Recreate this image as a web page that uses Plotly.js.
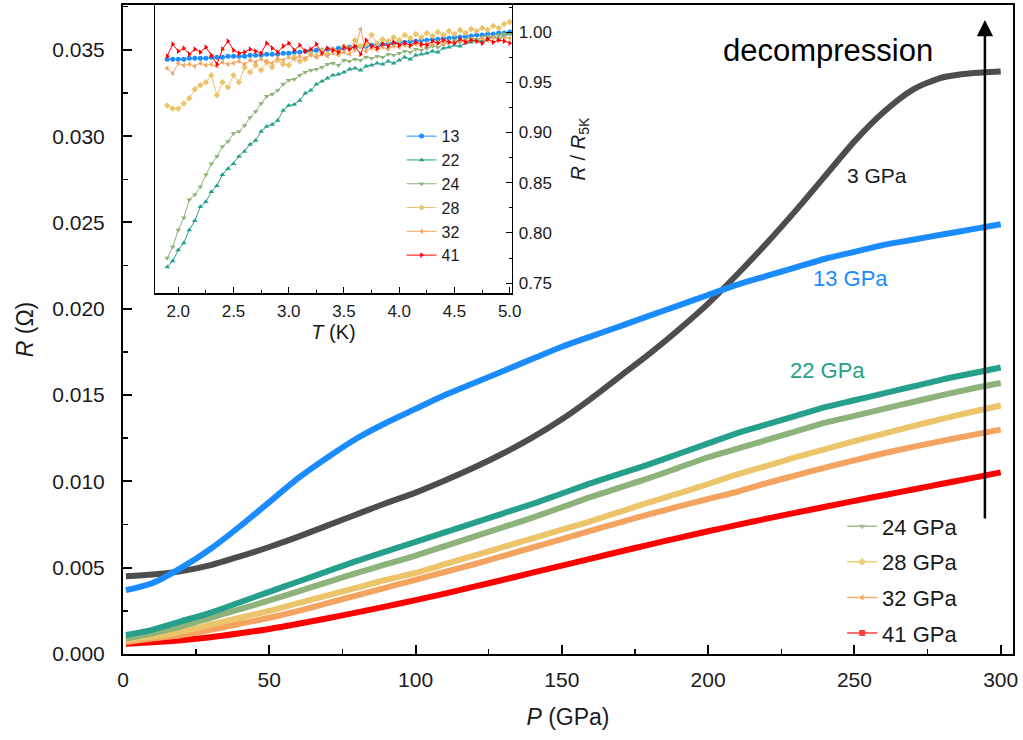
<!DOCTYPE html>
<html><head><meta charset="utf-8">
<script src="https://cdn.plot.ly/plotly-3.0.1.min.js"></script>
<style>html,body{margin:0;padding:0;background:#fff}</style>
</head><body><div id="chart" style="width:1023px;height:740px"></div>
<script>
// ---- main panel data: R (Ohm) vs P ----
const pressure = [1,10,20,30,40,50,60,70,80,90,100,110,120,130,140,150,160,170,180,190,200,210,220,230,240,250,260,270,280,290,300];
const r3  = [0.0045,0.0046,0.0048,0.00515,0.00565,0.0062,0.0068,0.00745,0.0081,0.00875,0.00935,0.01005,0.0108,0.01163,0.01255,0.0136,0.0148,0.0161,0.0174,0.0188,0.0203,0.0220,0.0238,0.0257,0.0277,0.0297,0.0314,0.0327,0.0334,0.03365,0.03375];
const r13 = [0.0037,0.0041,0.0050,0.0061,0.0074,0.0088,0.0102,0.0114,0.0125,0.0134,0.0142,0.0150,0.0157,0.0164,0.0171,0.0178,0.0184,0.0190,0.0196,0.0202,0.0208,0.0214,0.0219,0.0224,0.0229,0.0233,0.0237,0.0240,0.0243,0.0246,0.0249];
const r22 = [0.0011,0.0014,0.0019,0.0024,0.0030,0.0036,0.0042,0.0048,0.0054,0.00595,0.0065,0.00705,0.0076,0.00815,0.0087,0.0093,0.0099,0.01045,0.0110,0.0116,0.0122,0.0128,0.0133,0.0138,0.0143,0.0147,0.0151,0.0155,0.0159,0.01625,0.0166];
const r24 = [0.0009,0.0012,0.0016,0.0021,0.0026,0.0031,0.00363,0.00417,0.0047,0.0052,0.0057,0.00625,0.0068,0.00735,0.0079,0.0085,0.0091,0.00965,0.0102,0.0108,0.0114,0.0119,0.0124,0.0129,0.0134,0.0138,0.0142,0.0146,0.0150,0.01537,0.0157];
const r28 = [0.0008,0.0010,0.0013,0.0017,0.0021,0.0025,0.00295,0.0034,0.00385,0.0043,0.0047,0.0052,0.0057,0.0062,0.0067,0.0072,0.0077,0.00825,0.0088,0.0093,0.00985,0.0104,0.0109,0.0114,0.01187,0.01233,0.01277,0.0132,0.01362,0.01402,0.0144];
const r32 = [0.0007,0.0009,0.0011,0.0014,0.00175,0.0021,0.0025,0.00295,0.0034,0.00385,0.0043,0.00475,0.0052,0.00568,0.00617,0.00666,0.00715,0.00763,0.0081,0.00855,0.00898,0.0094,0.0099,0.01035,0.0108,0.01122,0.01163,0.01200,0.01235,0.01268,0.0130];
const r41 = [0.0006,0.00068,0.0008,0.00097,0.0012,0.00145,0.00175,0.00207,0.00241,0.00276,0.00312,0.0035,0.0039,0.0043,0.00471,0.00512,0.00553,0.00594,0.00634,0.00673,0.00711,0.00748,0.00784,0.00819,0.00853,0.00887,0.0092,0.00953,0.00986,0.01019,0.01052];

// ---- inset data: R/R5K vs T ----
const temp = [1.90,1.95,2.00,2.05,2.10,2.15,2.20,2.25,2.30,2.35,2.40,2.45,2.50,2.55,2.60,2.65,2.70,2.75,2.80,2.85,2.90,2.95,3.00,3.05,3.10,3.15,3.20,3.25,3.30,3.35,3.40,3.45,3.50,3.55,3.60,3.65,3.70,3.75,3.80,3.85,3.90,3.95,4.00,4.05,4.10,4.15,4.20,4.25,4.30,4.35,4.40,4.45,4.50,4.55,4.60,4.65,4.70,4.75,4.80,4.85,4.90,4.95,5.00];
const n13 = [0.973,0.973,0.973,0.973,0.974,0.974,0.974,0.974,0.975,0.975,0.975,0.976,0.976,0.976,0.976,0.977,0.977,0.977,0.978,0.978,0.978,0.979,0.979,0.980,0.980,0.981,0.981,0.982,0.982,0.983,0.983,0.984,0.984,0.985,0.985,0.986,0.986,0.987,0.988,0.988,0.989,0.989,0.990,0.990,0.991,0.991,0.992,0.992,0.993,0.993,0.994,0.994,0.995,0.995,0.996,0.996,0.997,0.997,0.998,0.998,0.999,0.999,1.000];
const n22 = [0.766,0.772,0.783,0.790,0.803,0.812,0.826,0.831,0.841,0.847,0.858,0.864,0.869,0.876,0.881,0.888,0.892,0.901,0.906,0.908,0.912,0.922,0.927,0.928,0.932,0.939,0.942,0.948,0.951,0.954,0.957,0.958,0.960,0.963,0.964,0.962,0.966,0.967,0.969,0.968,0.971,0.969,0.972,0.975,0.973,0.977,0.978,0.979,0.981,0.980,0.984,0.985,0.987,0.986,0.989,0.990,0.992,0.991,0.994,0.995,0.994,0.997,0.998];
const n24 = [0.775,0.786,0.803,0.815,0.833,0.838,0.846,0.858,0.869,0.876,0.886,0.891,0.899,0.901,0.907,0.915,0.921,0.929,0.936,0.938,0.942,0.948,0.952,0.953,0.957,0.960,0.962,0.963,0.965,0.968,0.969,0.967,0.972,0.971,0.973,0.972,0.975,0.974,0.976,0.975,0.978,0.977,0.979,0.981,0.980,0.983,0.982,0.984,0.986,0.985,0.988,0.990,0.992,0.990,0.993,0.994,0.993,0.995,0.996,0.995,0.997,0.998,0.999];
const n28 = [0.927,0.924,0.924,0.929,0.934,0.943,0.947,0.950,0.957,0.937,0.950,0.945,0.957,0.950,0.965,0.960,0.967,0.962,0.970,0.965,0.972,0.968,0.967,0.975,0.971,0.973,0.979,0.976,0.982,0.978,0.983,0.980,0.986,0.983,0.992,0.986,0.988,0.997,0.989,0.993,0.991,0.995,0.992,0.997,0.994,0.998,0.995,0.999,0.996,1.000,0.997,1.001,0.998,1.002,0.999,1.003,1.001,1.004,1.002,1.006,1.004,1.008,1.010];
const n32 = [0.964,0.959,0.969,0.967,0.968,0.966,0.969,0.967,0.968,0.966,0.970,0.968,0.969,0.971,0.968,0.972,0.970,0.973,0.971,0.969,0.974,0.972,0.975,0.973,0.976,0.974,0.977,0.975,0.978,0.976,0.979,0.977,0.980,0.978,0.982,1.003,0.981,0.984,0.982,0.985,0.983,0.986,0.985,0.987,0.985,0.988,0.986,0.989,0.987,0.990,0.988,0.991,0.989,0.992,0.990,0.993,0.991,0.994,0.992,0.995,0.993,0.995,0.994];
const n41 = [0.976,0.988,0.981,0.984,0.978,0.983,0.980,0.985,0.977,0.968,0.983,0.991,0.982,0.979,0.980,0.983,0.981,0.979,0.989,0.984,0.980,0.986,0.989,0.982,0.987,0.981,0.983,0.988,0.979,0.984,0.982,0.980,0.985,0.983,0.986,0.978,0.992,0.986,0.984,0.988,0.986,0.990,0.987,0.989,0.987,0.990,0.988,0.987,0.991,0.989,0.992,0.990,0.989,0.993,0.990,0.992,0.991,0.989,0.993,0.990,0.992,0.991,0.989];

const mainLabels = ['3 GPa','13 GPa','22 GPa','24 GPa','28 GPa','32 GPa','41 GPa'];
const insetLabels = ['13','22','24','28','32','41'];

const FONT = 'Liberation Sans, Arial, sans-serif';
const cGray='#4d4d4d', cBlue='#1a8cff', cTeal='#26a08a', cGreen='#8db37a', cYellow='#ecc46a', cOrange='#f4a460', cRed='#ff0000';

const traces = [];
// main curves
[[r41,cRed],[r32,cOrange],[r28,cYellow],[r24,cGreen],[r22,cTeal],[r3,cGray],[r13,cBlue]].forEach(([ys,c])=>{
  traces.push({x:pressure, y:ys, type:'scatter', mode:'lines', line:{color:c,width:6,shape:'spline',smoothing:0.7}, showlegend:false, hoverinfo:'skip'});
});
// main legend entries (thin lines with small markers)
[[3,'#9cc08a','triangle-down'],[4,'#f0cc78','diamond'],[5,'#f5a868','triangle-left'],[6,'#ff4040','square']].forEach(([i,c,s],k)=>{
  traces.push({x:[null], y:[null], type:'scatter', mode:'lines+markers', name:mainLabels[i], legend:'legend', legendgroup:'g'+k,
    line:{color:c,width:1.5}, marker:{symbol:s,size:6,color:c}, showlegend:true});
});
// inset curves
[[n13,cBlue,'circle',0],[n22,cTeal,'triangle-up',1],[n24,cGreen,'triangle-down',2],[n28,cYellow,'diamond',3],[n32,cOrange,'triangle-left',4],[n41,cRed,'triangle-right',5]].forEach(([ys,c,s,i])=>{
  traces.push({x:temp, y:ys, xaxis:'x2', yaxis:'y2', type:'scatter', mode:'lines+markers', name:insetLabels[i], legend:'legend2',
    line:{color:c,width:1}, marker:{symbol:s,size:5,color:c}, hoverinfo:'skip'});
});

const axCommon = {showgrid:false, zeroline:false, showline:true, linecolor:'#000', mirror:true, ticks:'inside', tickcolor:'#000'};

const layout = {
  width:1023, height:740,
  margin:{l:123, r:10, t:5, b:86},
  paper_bgcolor:'#fff', plot_bgcolor:'#fff',
  font:{family:FONT, color:'#1a1a1a'},
  xaxis: Object.assign({}, axCommon, {domain:[0,1], range:[0,304.2], dtick:50, tick0:0, linewidth:2, ticklen:9, tickwidth:2,
    minor:{dtick:25, ticks:'inside', ticklen:5, tickcolor:'#000', tickwidth:1.5},
    tickfont:{size:21,family:FONT}, ticklabelstandoff:6,
    title:{text:'<i>P</i> (GPa)', font:{size:23,family:FONT}, standoff:19}}),
  yaxis: Object.assign({}, axCommon, {domain:[0,1], range:[0,0.0376], dtick:0.005, tick0:0, tickformat:'.3f', linewidth:2, ticklen:9, tickwidth:2,
    minor:{dtick:0.0025, ticks:'inside', ticklen:5, tickcolor:'#000', tickwidth:1.5},
    tickfont:{size:21,family:FONT}, ticklabelstandoff:12,
    title:{text:'<i>R</i> (Ω)', font:{size:23,family:FONT}, standoff:12}}),
  xaxis2: Object.assign({}, axCommon, {domain:[0.036,0.437], anchor:'y2', range:[1.79,5.02], dtick:0.5, tick0:0, tickformat:'.1f', linewidth:1.5, ticklen:6,
    minor:{dtick:0.25, ticks:'inside', ticklen:3, tickcolor:'#000'},
    tickfont:{size:17,family:FONT}, ticklabelstandoff:2,
    title:{text:'<i>T</i> (K)', font:{size:20,family:FONT}, standoff:4}}),
  yaxis2: Object.assign({}, axCommon, {domain:[0.556,1], anchor:'x2', side:'right', range:[0.740,1.027], dtick:0.05, tick0:0, tickformat:'.2f', linewidth:1.5, ticklen:6,
    minor:{dtick:0.025, ticks:'inside', ticklen:3, tickcolor:'#000'},
    tickfont:{size:17,family:FONT}, ticklabelstandoff:2,
    title:{text:'<i>R</i> / <i>R</i><sub>5K</sub>', font:{size:20,family:FONT}, standoff:20}}),
  legend:{x:0.808, xanchor:'left', y:0.229, yanchor:'top', bgcolor:'rgba(0,0,0,0)', font:{size:22,family:FONT,color:'#1a1a1a'},
    traceorder:'grouped', tracegroupgap:4},
  legend2:{x:0.313, xanchor:'left', y:0.824, yanchor:'top', bgcolor:'rgba(0,0,0,0)', font:{size:16,family:FONT,color:'#1a1a1a'}},
  annotations:[
    {x:257.7, y:0.02775, xref:'x', yref:'y', text:'3 GPa', showarrow:false, font:{size:21,family:FONT,color:'#1a1a1a'}},
    {x:248.5, y:0.02178, xref:'x', yref:'y', text:'13 GPa', showarrow:false, font:{size:22,family:FONT,color:cBlue}},
    {x:240.9, y:0.01645, xref:'x', yref:'y', text:'22 GPa', showarrow:false, font:{size:22,family:FONT,color:cTeal}},
    {x:240.9, y:0.03499, xref:'x', yref:'y', text:'decompression', showarrow:false, font:{size:31,family:FONT,color:'#000'}},
    {x:294.6, y:0.03673, xref:'x', yref:'y', ax:294.6, ay:0.00776, axref:'x', ayref:'y', text:'', showarrow:true,
      arrowhead:2, arrowsize:1.3, arrowwidth:2.5, arrowcolor:'#000'}
  ]
};

Plotly.newPlot('chart', traces, layout, {displayModeBar:false, staticPlot:true});
</script></body></html>
